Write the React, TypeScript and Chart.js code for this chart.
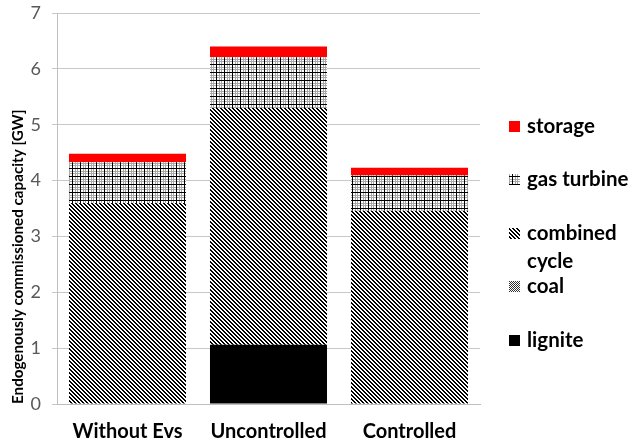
import React, { useEffect, useRef } from "react";
import { Chart, registerables } from "chart.js";

Chart.register(...registerables);

const categories = ["Without Evs", "Uncontrolled", "Controlled"];
const lignite = [0, 1.06, 0];
const coal = [0, 0, 0];
const combinedCycle = [3.6, 4.24, 3.46];
const gasTurbine = [0.73, 0.91, 0.63];
const storage = [0.15, 0.19, 0.14];
const yMin = 0;
const yMax = 7;
const yStep = 1;
const yTitle = "Endogenously commissioned capacity [GW]";

function makePattern(size: number, paint: (g: CanvasRenderingContext2D) => void) {
  const c = document.createElement("canvas");
  c.width = size;
  c.height = size;
  const g = c.getContext("2d") as CanvasRenderingContext2D;
  g.fillStyle = "#ffffff";
  g.fillRect(0, 0, size, size);
  paint(g);
  return g.createPattern(c, "repeat") as CanvasPattern;
}

function diagonalPattern() {
  return makePattern(4, (g) => {
    g.fillStyle = "#000000";
    for (let y = 0; y < 4; y++)
      for (let x = 0; x < 4; x++) if ((x - y + 8) % 4 < 2) g.fillRect(x, y, 1, 1);
  });
}

function gridPattern() {
  return makePattern(8, (g) => {
    g.fillStyle = "#a8a8a8";
    g.fillRect(0, 3, 8, 1);
    g.fillRect(0, 5, 8, 1);
    g.fillRect(3, 0, 1, 8);
    g.fillRect(5, 0, 1, 8);
    g.fillStyle = "#000000";
    g.fillRect(0, 0, 8, 1);
    g.fillRect(0, 0, 1, 8);
  });
}

function densePattern() {
  return makePattern(4, (g) => {
    g.fillStyle = "#333333";
    for (let y = 0; y < 4; y++)
      for (let x = 0; x < 4; x++) if ((x + y) % 2 === 0) g.fillRect(x, y, 1, 1);
  });
}

const FONT = "Lato";

const sideLegend = {
  id: "sideLegend",
  afterDraw(chart: any) {
    const ctx: CanvasRenderingContext2D = chart.ctx;
    const area = chart.chartArea;
    const boxX = area.right + 29;
    const textX = area.right + 47;
    const maxW = chart.width - textX - 1;
    const box = 11;
    const step = 53.5;
    const lineH = 28;
    let y = area.top + 113;
    const items = [...chart.data.datasets].reverse();
    ctx.save();
    ctx.font = `bold 20.5px ${FONT}`;
    ctx.textBaseline = "middle";
    ctx.textAlign = "left";
    items.forEach((ds: any) => {
      const words = String(ds.label).split(" ");
      const lines: string[] = [];
      let cur = "";
      words.forEach((w) => {
        const t = cur ? cur + " " + w : w;
        if (cur && ctx.measureText(t).width > maxW) {
          lines.push(cur);
          cur = w;
        } else cur = t;
      });
      if (cur) lines.push(cur);
      ctx.fillStyle = ds.backgroundColor;
      ctx.fillRect(boxX, Math.round(y - box / 2), box, box);
      ctx.fillStyle = "#000000";
      lines.forEach((ln, i) => ctx.fillText(ln, textX, y + i * lineH));
      y += step;
    });
    ctx.restore();
  },
};

export default function App() {
  const ref = useRef<HTMLCanvasElement | null>(null);
  useEffect(() => {
    if (!ref.current) return;
    const common = { borderWidth: 0, barPercentage: 0.83, categoryPercentage: 1 };
    const chart = new Chart(ref.current, {
      type: "bar",
      data: {
        labels: categories,
        datasets: [
          { label: "lignite", data: lignite, backgroundColor: "#000000", ...common },
          { label: "coal", data: coal, backgroundColor: densePattern(), ...common },
          { label: "combined cycle", data: combinedCycle, backgroundColor: diagonalPattern(), ...common },
          { label: "gas turbine", data: gasTurbine, backgroundColor: gridPattern(), ...common },
          { label: "storage", data: storage, backgroundColor: "#ff0000", ...common },
        ] as any,
      },
      options: {
        animation: false,
        responsive: true,
        maintainAspectRatio: false,
        layout: { padding: { top: 13, right: 153, bottom: 0, left: 0 } },
        plugins: { legend: { display: false }, tooltip: { enabled: false } },
        scales: {
          x: {
            stacked: true,
            grid: { display: false, drawTicks: false },
            border: { display: true, color: "#bfbfbf" },
            ticks: {
              font: { family: FONT, size: 20, weight: "bold" },
              color: "#000000",
              padding: 16,
            },
            afterFit: (s: any) => {
              s.height = 41;
              s.paddingLeft = 0;
              s.paddingRight = 0;
            },
          },
          y: {
            stacked: true,
            min: yMin,
            max: yMax,
            ticks: {
              stepSize: yStep,
              font: { family: FONT, size: 18 },
              color: "#595959",
              padding: 11,
            },
            grid: { color: "#c8c8c8", tickLength: 5 },
            border: { color: "#bfbfbf" },
            title: {
              display: true,
              text: yTitle,
              align: "start",
              font: { family: FONT, size: 15.2, weight: "bold" },
              color: "#000000",
              padding: { top: 9, bottom: 0 },
            },
            afterFit: (s: any) => {
              s.width = 57;
              s.paddingTop = 0;
              s.paddingBottom = 0;
            },
          },
        },
      } as any,
      plugins: [sideLegend],
    });
    return () => chart.destroy();
  }, []);
  return (
    <div style={{ position: "absolute", left: 0, top: 0, width: 633, height: 445, background: "#fff" }}>
      <canvas ref={ref} />
    </div>
  );
}
